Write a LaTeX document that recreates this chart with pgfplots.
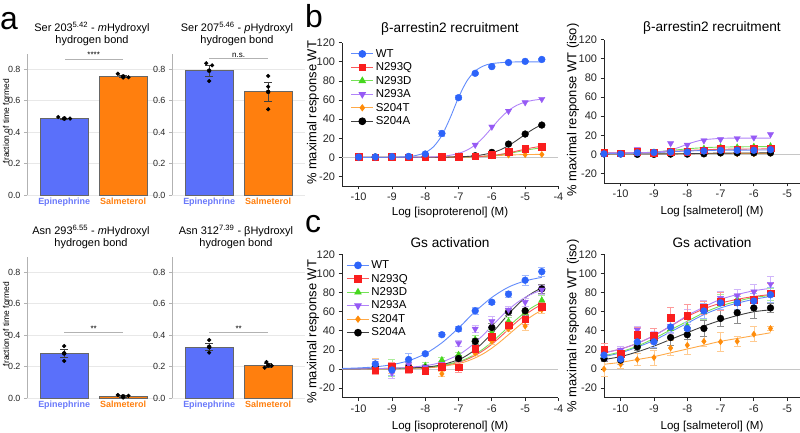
\documentclass[border=0pt]{standalone}
\usepackage{fontspec}
\setmainfont{Liberation Sans}
\usepackage{pgfplots}
\pgfplotsset{compat=1.18}
\definecolor{wtb}{RGB}{45,100,250}
\definecolor{nqr}{RGB}{250,30,30}
\definecolor{ndg}{RGB}{70,215,30}
\definecolor{nap}{RGB}{150,90,245}
\definecolor{sto}{RGB}{255,140,10}
\definecolor{sak}{RGB}{0,0,0}
\definecolor{epibar}{RGB}{90,112,250}
\definecolor{salbar}{RGB}{255,127,14}
\definecolor{epitxt}{RGB}{105,120,250}
\pgfplotsset{
  curveax/.style={x=33.3bp, y=0.955bp, xmin=-10.5, xmax=-4, ymin=-30, ymax=120,
    axis x line*=bottom, axis y line*=left, tick align=outside, major tick length=3.5bp,
    xtick={-10,-9,-8,-7,-6,-5,-4}, ytick={-20,0,20,40,60,80,100,120},
    axis line style={line width=0.8bp, black!85}, tick style={line width=0.8bp, black!85},
    /pgf/number format/assume math mode=true,
    ticklabel style={font=\fontsize{11}{13}\selectfont, black!85},
    clip=false},
  rightax/.style={xmax=-4.6, xtick={-10,-9,-8,-7,-6,-5}},
  barax/.style={x=59bp, y=157bp, xmin=-0.63, xmax=1.63, ymin=0, ymax=0.9,
    axis y line*=left, axis x line*=bottom, x axis line style={draw=none},
    xtick={0,1}, xticklabels={\textcolor{epitxt}{Epinephrine},\textcolor{salbar}{Salmeterol}},
    major x tick style={draw=none},
    ytick={0,0.2,0.4,0.6,0.8}, ymajorgrids, grid style={gray!18, line width=0.6bp},
    y axis line style={gray!60, line width=0.8bp}, ytick style={gray!60, line width=0.8bp},
    tick align=outside, major tick length=3bp,
    /pgf/number format/assume math mode=true,
    yticklabel style={font=\fontsize{9}{10}\selectfont, black!85, /pgf/number format/fixed, /pgf/number format/fixed zerofill, /pgf/number format/precision=1},
    xticklabel style={font=\bfseries\fontsize{9}{10}\selectfont, yshift=4bp},
    clip=false},
  barA/.style={ybar, bar shift=0pt, bar width=48bp, fill=epibar, draw=black!60, line width=0.7bp},
  barB/.style={ybar, bar shift=0pt, bar width=48bp, fill=salbar, draw=black!60, line width=0.7bp},
  berr/.style={only marks, mark=none, error bars/.cd, y dir=both, y explicit,
    error bar style={black!75, line width=0.8bp}, error mark options={rotate=90, mark size=4bp, black!75, line width=0.8bp}},
  dots/.style={only marks, mark=*, mark size=1.9bp, black},
  sig/.style={gray!60, line width=0.8bp},
  errs/.style={error bars/.cd, y dir=both, y explicit,
    error bar style={line width=0.7bp, #1!45}, error mark options={rotate=90, mark size=3.5bp, line width=0.7bp, #1!45}},
  cl/.style={color=#1!75, line width=0.9bp, smooth, no marks, forget plot},
  mwt/.style={only marks, forget plot, mark=*, mark size=3.4bp, color=wtb, mark options={fill=wtb, draw=wtb}},
  mnq/.style={only marks, forget plot, mark=square*, mark size=3.3bp, color=nqr, mark options={fill=nqr, draw=nqr}},
  mnd/.style={only marks, forget plot, mark=triangle*, mark size=3.6bp, color=ndg, mark options={fill=ndg, draw=ndg}},
  mna/.style={only marks, forget plot, mark=triangle*, mark size=3.6bp, color=nap, mark options={fill=nap, draw=nap, rotate=180}},
  mst/.style={only marks, forget plot, mark=diamond*, mark size=3bp, color=sto, mark options={fill=sto, draw=sto}},
  msa/.style={only marks, forget plot, mark=*, mark size=3.4bp, color=sak, mark options={fill=sak, draw=sak}},
  zl/.style={gray!45, line width=0.8bp, forget plot},
  legsty/.style={legend style={draw=none, fill=none, at={(#1)}, anchor=north west,
    font=\fontsize{11.5}{13.6}\selectfont, row sep=0bp, inner sep=0bp, cells={anchor=west}},
    legend image code/.code={\draw[mark repeat=2,mark phase=2,##1] plot coordinates {(0bp,0bp)(11bp,0bp)(22bp,0bp)};}},
}
\newcommand\legendall{%
  \addlegendimage{color=wtb!75, line width=0.9bp, mark=*, mark size=3.4bp, mark options={fill=wtb, draw=wtb}}\addlegendentry{WT}
  \addlegendimage{color=nqr!75, line width=0.9bp, mark=square*, mark size=3.3bp, mark options={fill=nqr, draw=nqr}}\addlegendentry{N293Q}
  \addlegendimage{color=ndg!75, line width=0.9bp, mark=triangle*, mark size=3.6bp, mark options={fill=ndg, draw=ndg}}\addlegendentry{N293D}
  \addlegendimage{color=nap!75, line width=0.9bp, mark=triangle*, mark size=3.6bp, mark options={fill=nap, draw=nap, rotate=180}}\addlegendentry{N293A}
  \addlegendimage{color=sto!75, line width=0.9bp, mark=diamond*, mark size=3bp, mark options={fill=sto, draw=sto}}\addlegendentry{S204T}
  \addlegendimage{color=black!75, line width=0.9bp, mark=*, mark size=3.4bp, mark options={fill=black, draw=black}}\addlegendentry{S204A}
}
\begin{document}
\begin{tikzpicture}[x=1bp, y=1bp]
\path[use as bounding box] (0bp,0bp) rectangle (800bp,433bp);

% ---------------- panel a ----------------
\node[anchor=base west, font=\fontsize{32}{32}\selectfont, inner sep=0] at (0bp,403bp) {a};
\node[anchor=base west, font=\fontsize{32}{32}\selectfont, inner sep=0] at (305bp,405bp) {b};
\node[anchor=base west, font=\fontsize{32}{32}\selectfont, inner sep=0] at (305bp,200bp) {c};

\begin{axis}[barax, at={(27bp,238bp)}, anchor=south west]
\addplot[barA] coordinates {(0,0.487)};
\addplot[barB] coordinates {(1,0.755)};
\addplot[berr] coordinates {(0,0.487) +- (0,0.004) (1,0.755) +- (0,0.007)};
\addplot[dots] coordinates {(-0.1,0.497) (0.01,0.488) (0.1,0.487) (0.91,0.772) (1.0,0.748) (1.09,0.75)};
\addplot[sig] coordinates {(0.02,0.866) (1,0.866)};
\node[font=\fontsize{8}{9}\selectfont, anchor=south, inner sep=1bp] at (axis cs:0.5,0.866) {****};
\end{axis}
\begin{axis}[barax, at={(172bp,238bp)}, anchor=south west]
\addplot[barA] coordinates {(0,0.792)};
\addplot[barB] coordinates {(1,0.657)};
\addplot[berr] coordinates {(0,0.792) +- (0,0.035) (1,0.657) +- (0,0.062)};
\addplot[dots] coordinates {(-0.05,0.839) (0.05,0.826) (0.0,0.726) (1.0,0.758) (1.0,0.69) (1.0,0.546)};
\addplot[sig] coordinates {(0,0.87) (1,0.87)};
\node[font=\fontsize{8}{9}\selectfont, anchor=south, inner sep=1bp] at (axis cs:0.5,0.87) {n.s.};
\end{axis}
\begin{axis}[barax, at={(27bp,35bp)}, anchor=south west]
\addplot[barA] coordinates {(0,0.282)};
\addplot[barB] coordinates {(1,0.01)};
\addplot[berr] coordinates {(0,0.284) +- (0,0.026) (1,0.011) +- (0,0.004)};
\addplot[dots] coordinates {(0,0.331) (0,0.285) (0,0.236) (0.91,0.019) (1.0,0.003) (1.09,0.014)};
\addplot[sig] coordinates {(0,0.418) (1,0.418)};
\node[font=\fontsize{8}{9}\selectfont, anchor=south, inner sep=1bp] at (axis cs:0.5,0.418) {**};
\end{axis}
\begin{axis}[barax, at={(172bp,35bp)}, anchor=south west]
\addplot[barA] coordinates {(0,0.324)};
\addplot[barB] coordinates {(1,0.207)};
\addplot[berr] coordinates {(0,0.326) +- (0,0.023) (1,0.208) +- (0,0.013)};
\addplot[dots] coordinates {(0,0.369) (0,0.322) (0,0.289) (0.97,0.229) (0.94,0.193) (1.06,0.206)};
\addplot[sig] coordinates {(0,0.416) (1,0.416)};
\node[font=\fontsize{8}{9}\selectfont, anchor=south, inner sep=1bp] at (axis cs:0.5,0.416) {**};
\end{axis}

\node[font=\fontsize{11}{12.5}\selectfont, align=center] at (92bp,399bp) {Ser 203\textsuperscript{5.42} - \textit{m}Hydroxyl\\hydrogen bond};
\node[font=\fontsize{11}{12.5}\selectfont, align=center] at (237bp,399bp) {Ser 207\textsuperscript{5.46} - \textit{p}Hydroxyl\\hydrogen bond};
\node[font=\fontsize{11}{12.5}\selectfont, align=center] at (91bp,196bp) {Asn 293\textsuperscript{6.55} - \textit{m}Hydroxyl\\hydrogen bond};
\node[font=\fontsize{11}{12.5}\selectfont, align=center] at (236bp,196bp) {Asn 312\textsuperscript{7.39} - βHydroxyl\\hydrogen bond};
\node[rotate=90, font=\fontsize{8.5}{10}\selectfont] at (6bp,312bp) {fraction of time formed};
\node[rotate=90, font=\fontsize{8.5}{10}\selectfont] at (6bp,109bp) {fraction of time formed};

% ---------------- panel b left ----------------
\begin{axis}[curveax, at={(342bp,247bp)}, anchor=south west, legsty={0.04,0.97}]
\addplot[zl] coordinates {(-10.5,0) (-4,0)};
\addplot[cl=sto] coordinates {(-10,0) (-7.5,0.1) (-7,0.29) (-6.5,0.77) (-6,1.6) (-5.5,2.43) (-5,2.9) (-4.5,3.1)};
\addplot[cl=ndg] coordinates {(-10,0) (-7,0.19) (-6.5,0.57) (-6.25,1) (-6,1.6) (-5.75,2.7) (-5.5,4.0) (-5.25,5.7) (-5,7.4) (-4.75,8.8) (-4.5,10)};
\addplot[cl=nqr] coordinates {(-10,0) (-8,0.1) (-7,0.22) (-6.5,0.67) (-6.25,1.15) (-6,1.9) (-5.75,3.1) (-5.5,4.7) (-5.25,6.6) (-5,8.6) (-4.75,10.3) (-4.5,11.7)};
\addplot[cl=black] coordinates {(-10,0) (-8,0.06) (-7.5,0.17) (-7,0.54) (-6.75,0.94) (-6.5,1.6) (-6.25,2.9) (-6,4.8) (-5.75,7.8) (-5.5,12.2) (-5.25,17.9) (-5,24) (-4.75,29.7) (-4.5,34.4)};
\addplot[cl=nap] coordinates {(-10,0) (-8,0.3) (-7.5,1.15) (-7.25,2.2) (-7,4.1) (-6.75,7.5) (-6.5,13) (-6.25,21.1) (-6,31) (-5.75,40.9) (-5.5,49) (-5.25,54.5) (-5,57.9) (-4.75,59.8) (-4.5,60.9)};
\addplot[cl=wtb] coordinates {(-10,0) (-9,0.2) (-8.5,0.9) (-8.25,2.2) (-8,5) (-7.75,11.2) (-7.5,23) (-7.25,41.5) (-7,62.7) (-6.75,79.9) (-6.5,90.4) (-6.25,95.7) (-6,98.2) (-5.5,99.7) (-5,100) (-4.5,100)};
\addplot[mst] coordinates {(-10,0.5) (-9.5,0.4) (-9,0.5) (-8.5,0.4) (-8,0.5) (-7.5,0.5) (-7,0.5) (-6.5,0.8) (-6,1.5) (-5.5,2.3) (-5,2.8) (-4.5,3)};
\addplot[msa] coordinates {(-10,0.3) (-9.5,0.3) (-9,0.5) (-8.5,0.5) (-8,0.5) (-7.5,0.5) (-7,1) (-6.5,1.7) (-6,5.2) (-5.5,13.9) (-5,24.4) (-4.5,33.8)};
\addplot[mnd] coordinates {(-10,0.3) (-9.5,0.3) (-9,0.3) (-8.5,0.3) (-8,0.3) (-7.5,0.5) (-7,0.5) (-6.5,0.8) (-6,2) (-5.5,4) (-5,7.5) (-4.5,10)};
\addplot[mna] coordinates {(-10,0.3) (-9.5,0.3) (-9,0.5) (-8.5,0.5) (-8,0.5) (-7.5,0.8) (-7,2.5) (-6.5,13) (-6,32) (-5.5,48.5) (-5,57.5) (-4.5,61)};
\addplot[mnq] coordinates {(-10,0.5) (-9.5,0.3) (-9,0.5) (-8.5,0.3) (-8,0.3) (-7.5,0.5) (-7,0.8) (-6.5,1.2) (-6,2.5) (-5.5,6) (-5,9) (-4.5,11)};
\addplot[mwt, errs=wtb] coordinates {(-10,0.3) +- (0,0) (-9.5,0.5) +- (0,0) (-9,0.8) +- (0,0) (-8.5,1) +- (0,0) (-8,3.5) +- (0,1) (-7.5,25) +- (0,3) (-7,62.5) +- (0,2) (-6.5,88) +- (0,1) (-6,95) +- (0,1) (-5.5,99.3) +- (0,1) (-5,100.5) +- (0,1) (-4.5,102.5) +- (0,1)};
\legendall
\end{axis}

% ---------------- panel b right ----------------
\begin{axis}[curveax, rightax, at={(604bp,250bp)}, anchor=south west]
\addplot[zl] coordinates {(-10.5,0) (-4.6,0)};
\addplot[cl=sto] coordinates {(-10.5,0.5) (-8,0.7) (-7,0.9) (-5.5,1)};
\addplot[cl=black] coordinates {(-10.5,0.3) (-8.5,0.5) (-7.5,1) (-7,1.3) (-5.5,1.5)};
\addplot[cl=ndg] coordinates {(-10.5,1) (-9.5,1.5) (-9,2.5) (-8.5,4) (-8,5.8) (-7.5,7) (-7,7.6) (-6,8) (-5.5,8)};
\addplot[cl=nqr] coordinates {(-10.5,1.5) (-9.5,1.7) (-9,2.1) (-8.5,3) (-8,4) (-7.5,4.8) (-7,5.3) (-6,5.6) (-5.5,5.7)};
\addplot[cl=wtb] coordinates {(-10.5,1) (-9.5,1.3) (-9,1.8) (-8.5,2.7) (-8,3.5) (-7.5,4) (-7,4.3) (-6,4.5) (-5.5,4.5)};
\addplot[cl=nap] coordinates {(-10.5,1.5) (-9.5,1.6) (-9,2.2) (-8.75,3) (-8.5,4.6) (-8.25,7.3) (-8,10.6) (-7.75,13.4) (-7.5,15.3) (-7,16.7) (-6.5,17) (-5.5,17)};
\addplot[mst] coordinates {(-10.5,0.5) (-10,0.5) (-9.5,0) (-9,0) (-8.5,0) (-8,0.5) (-7.5,0.5) (-7,1) (-6.5,0.5) (-6,0.5) (-5.5,1)};
\addplot[msa] coordinates {(-10.5,0.5) (-10,0.5) (-9.5,0) (-9,0) (-8.5,0.3) (-8,0.3) (-7.5,0.5) (-7,1.5) (-6.5,1.5) (-6,1.5) (-5.5,1.5)};
\addplot[mnd] coordinates {(-10.5,1) (-10,0.5) (-9.5,1.5) (-9,2) (-8.5,3) (-8,4.5) (-7.5,6) (-7,7.5) (-6.5,7.3) (-6,8) (-5.5,8.5)};
\addplot[mna] coordinates {(-10.5,1) (-10,1) (-9.5,5.2) (-9,2.8) (-8.5,11.5) (-8,9.8) (-7.5,14.5) (-7,15.7) (-6.5,16.8) (-6,17.5) (-5.5,21)};
\addplot[mnq] coordinates {(-10.5,1.5) (-10,1) (-9.5,2.5) (-9,2) (-8.5,2.8) (-8,3) (-7.5,4.5) (-7,5.6) (-6.5,5.2) (-6,5.6) (-5.5,6.5)};
\addplot[mwt] coordinates {(-10.5,0.5) (-10,0.3) (-9.5,1.7) (-9,2) (-8.5,2.4) (-8,2.4) (-7.5,3.5) (-7,4.2) (-6.5,4.2) (-6,4.2) (-5.5,4.9)};
\end{axis}

% ---------------- panel c left ----------------
\begin{axis}[curveax, at={(342bp,35.3bp)}, anchor=south west, legsty={0.02,0.972}]
\addplot[zl] coordinates {(-10.5,0) (-4,0)};
\addplot[cl=sto] coordinates {(-10.5,0) (-9,0.3) (-8,1.2) (-7.5,2.7) (-7,5.7) (-6.75,8.2) (-6.5,11.7) (-6.25,16.2) (-6,21.9) (-5.75,28.6) (-5.5,36) (-5.25,43.5) (-5,50.5) (-4.75,56.6) (-4.5,61.7)};
\addplot[cl=nqr] coordinates {(-10.5,0) (-9,0.3) (-8,1.5) (-7.5,3.3) (-7,7.0) (-6.75,10.1) (-6.5,14.2) (-6.25,19.6) (-6,26) (-5.75,33.6) (-5.5,41.6) (-5.25,49.5) (-5,56.6) (-4.75,62.7) (-4.5,67.6)};
\addplot[cl=ndg] coordinates {(-10.5,0) (-9,0.34) (-8,1.7) (-7.5,3.7) (-7,7.8) (-6.75,11.1) (-6.5,15.6) (-6.25,21.3) (-6,28.2) (-5.75,36.1) (-5.5,44.3) (-5.25,52.3) (-5,59.4) (-4.75,65.4) (-4.5,70)};
\addplot[cl=black] coordinates {(-10.5,0) (-9,0.8) (-8,2.1) (-7.5,4.5) (-7,9.8) (-6.75,14.3) (-6.5,20.4) (-6.25,28.3) (-6,37.4) (-5.75,47.5) (-5.5,57.6) (-5.25,66.7) (-5,74.6) (-4.75,80.4) (-4.5,85.2)};
\addplot[cl=nap] coordinates {(-10.5,0.1) (-9,0.7) (-8,3.5) (-7.5,7.4) (-7,15) (-6.75,20.7) (-6.5,27.8) (-6.25,36) (-6,45) (-5.75,54) (-5.5,62.2) (-5.25,69.3) (-5,75) (-4.75,79.4) (-4.5,82.6)};
\addplot[cl=wtb] coordinates {(-10.5,0.6) (-10,1.2) (-9.5,2.3) (-9,4.6) (-8.5,8.7) (-8,16) (-7.5,27.5) (-7,43) (-6.5,60.2) (-6,75) (-5.5,85.8) (-5,92.3) (-4.5,96)};
\addplot[mst, errs=sto] coordinates {(-9.5,6) +- (0,5) (-9,0) +- (0,4) (-8.5,2.5) +- (0,4) (-8,0.5) +- (0,3) (-7.5,-5) +- (0,3) (-7,1) +- (0,4) (-6.5,16.5) +- (0,2) (-6,29) +- (0,3) (-5.5,42) +- (0,3) (-5,45) +- (0,4) (-4.5,62) +- (0,4)};
\addplot[mnd, errs=ndg] coordinates {(-9.5,-3) +- (0,3) (-9,1) +- (0,9) (-8.5,3) +- (0,4) (-8,3.5) +- (0,3) (-7.5,9.5) +- (0,3) (-7,15) +- (0,3) (-6.5,31) +- (0,4) (-6,38) +- (0,4) (-5.5,50) +- (0,4) (-5,59) +- (0,4) (-4.5,72) +- (0,5)};
\addplot[msa, errs=black] coordinates {(-9.5,2) +- (0,3) (-9,2) +- (0,3) (-8.5,2) +- (0,3) (-8,1) +- (0,3) (-7.5,2) +- (0,3) (-7,11) +- (0,3) (-6.5,29) +- (0,3) (-6,43.5) +- (0,4) (-5.5,60) +- (0,4) (-5,61) +- (0,5) (-4.5,84) +- (0,5)};
\addplot[mna, errs=nap] coordinates {(-9.5,3) +- (0,5) (-9,-4) +- (0,6) (-8.5,5) +- (0,5) (-8,2) +- (0,3) (-7.5,5) +- (0,3) (-7,27) +- (0,3) (-6.5,42) +- (0,4) (-6,50) +- (0,5) (-5.5,62) +- (0,4) (-5,70) +- (0,4) (-4.5,83) +- (0,5)};
\addplot[mnq, errs=nqr] coordinates {(-9.5,-1) +- (0,5) (-9,3) +- (0,4) (-8.5,0) +- (0,5) (-8,-2) +- (0,3) (-7.5,2.5) +- (0,4) (-7,2) +- (0,5) (-6.5,21.5) +- (0,3) (-6,34) +- (0,3) (-5.5,46) +- (0,4) (-5,52) +- (0,5) (-4.5,65.5) +- (0,4)};
\addplot[mwt, errs=wtb] coordinates {(-9.5,5.3) +- (0,5) (-9,-1) +- (0,6) (-8.5,10) +- (0,6) (-8,16) +- (0,2) (-7.5,36) +- (0,2) (-7,42) +- (0,3) (-6.5,61) +- (0,4) (-6,70) +- (0,2) (-5.5,78.5) +- (0,3) (-5,93) +- (0,5) (-4.5,102) +- (0,5)};
\legendall
\end{axis}

% ---------------- panel c right ----------------
\begin{axis}[curveax, rightax, at={(604bp,35.3bp)}, anchor=south west]
\addplot[zl] coordinates {(-10.5,0) (-4.6,0)};
\addplot[cl=sto] coordinates {(-10.5,5) (-10,7) (-9.5,10) (-9,13) (-8.5,17) (-8,21) (-7.5,25) (-7,29) (-6.5,32) (-6,35) (-5.5,38)};
\addplot[cl=black] coordinates {(-10.5,10) (-10,13) (-9.5,18) (-9,24) (-8.5,31) (-8,38) (-7.5,45) (-7,51) (-6.5,56) (-6,60) (-5.5,62)};
\addplot[cl=wtb] coordinates {(-10.5,13) (-10,17) (-9.5,23) (-9,30) (-8.5,39) (-8,48) (-7.5,57) (-7,64) (-6.5,69) (-6,73) (-5.5,76)};
\addplot[cl=ndg] coordinates {(-10.5,14) (-10,18) (-9.5,24) (-9,32) (-8.5,41) (-8,50) (-7.5,59) (-7,66) (-6.5,71) (-6,75) (-5.5,77)};
\addplot[cl=nqr] coordinates {(-10.5,17) (-10,21) (-9.5,27) (-9,35) (-8.5,45) (-8,55) (-7.5,63) (-7,69) (-6.5,73) (-6,76) (-5.5,78)};
\addplot[cl=nap] coordinates {(-10.5,17) (-10,21) (-9.5,27) (-9,35) (-8.5,45) (-8,56) (-7.5,65) (-7,73) (-6.5,78) (-6,82) (-5.5,84.5)};
\addplot[mst, errs=sto] coordinates {(-10.5,0) +- (0,8) (-10,5) +- (0,4) (-9.5,10) +- (0,6) (-9,12) +- (0,8) (-8.5,22) +- (0,8) (-8,25) +- (0,10) (-7.5,29) +- (0,5) (-7,28.5) +- (0,10) (-6.5,29) +- (0,5) (-6,36.5) +- (0,8) (-5.5,42.5) +- (0,2)};
\addplot[msa, errs=black] coordinates {(-10.5,11) +- (0,3) (-10,9.4) +- (0,4) (-9.5,23.3) +- (0,4) (-9,30) +- (0,8) (-8.5,33) +- (0,8) (-8,36) +- (0,5) (-7.5,42.5) +- (0,8) (-7,53) +- (0,8) (-6.5,59) +- (0,11) (-6,64) +- (0,11) (-5.5,64) +- (0,5)};
\addplot[mnd, errs=ndg] coordinates {(-10.5,14) +- (0,5) (-10,14) +- (0,5) (-9.5,28) +- (0,6) (-9,30) +- (0,7) (-8.5,42) +- (0,8) (-8,45) +- (0,8) (-7.5,60) +- (0,8) (-7,70) +- (0,8) (-6.5,73) +- (0,10) (-6,73) +- (0,8) (-5.5,78) +- (0,6)};
\addplot[mna, errs=nap] coordinates {(-10.5,15) +- (0,6) (-10,20) +- (0,4) (-9.5,41) +- (0,4) (-9,37) +- (0,6) (-8.5,45) +- (0,8) (-8,55) +- (0,8) (-7.5,66) +- (0,6) (-7,74) +- (0,7) (-6.5,77) +- (0,6) (-6,81) +- (0,8) (-5.5,89) +- (0,8)};
\addplot[mnq, errs=nqr] coordinates {(-10.5,20.8) +- (0,6) (-10,16.3) +- (0,5) (-9.5,36) +- (0,8) (-9,34.7) +- (0,8) (-8.5,53.5) +- (0,11) (-8,56) +- (0,12) (-7.5,64) +- (0,7) (-7,70.8) +- (0,9) (-6.5,70) +- (0,8) (-6,72.5) +- (0,9) (-5.5,79.5) +- (0,10)};
\addplot[mwt, errs=wtb] coordinates {(-10.5,14.6) +- (0,4) (-10,10.4) +- (0,5) (-9.5,28.5) +- (0,5) (-9,28.5) +- (0,6) (-8.5,44) +- (0,6) (-8,42.4) +- (0,7) (-7.5,60.8) +- (0,8) (-7,69.4) +- (0,7) (-6.5,69.4) +- (0,7) (-6,71.2) +- (0,8) (-5.5,77.8) +- (0,8)};
\end{axis}

% titles and labels for curve panels
\node[font=\fontsize{13.7}{15}\selectfont] at (450bp,404bp) {β-arrestin2 recruitment};
\node[font=\fontsize{13.7}{15}\selectfont] at (712bp,405bp) {β-arrestin2 recruitment};
\node[font=\fontsize{13.7}{15}\selectfont] at (450bp,190bp) {Gs activation};
\node[font=\fontsize{13.7}{15}\selectfont] at (712bp,190bp) {Gs activation};
\node[font=\fontsize{11.6}{13}\selectfont] at (450bp,220bp) {Log [isoproterenol] (M)};
\node[font=\fontsize{11.6}{13}\selectfont] at (712bp,221bp) {Log [salmeterol] (M)};
\node[font=\fontsize{11.6}{13}\selectfont] at (450bp,6bp) {Log [isoproterenol] (M)};
\node[font=\fontsize{11.6}{13}\selectfont] at (712bp,6bp) {Log [salmeterol] (M)};
\node[rotate=90, font=\fontsize{13}{15}\selectfont] at (313bp,320bp) {\% maximal response WT};
\node[rotate=90, font=\fontsize{13}{15}\selectfont] at (573bp,323bp) {\% maximal response WT (iso)};
\node[rotate=90, font=\fontsize{13}{15}\selectfont] at (313bp,101bp) {\% maximal response WT};
\node[rotate=90, font=\fontsize{13}{15}\selectfont] at (573bp,107bp) {\% maximal response WT (iso)};
\end{tikzpicture}
\end{document}
